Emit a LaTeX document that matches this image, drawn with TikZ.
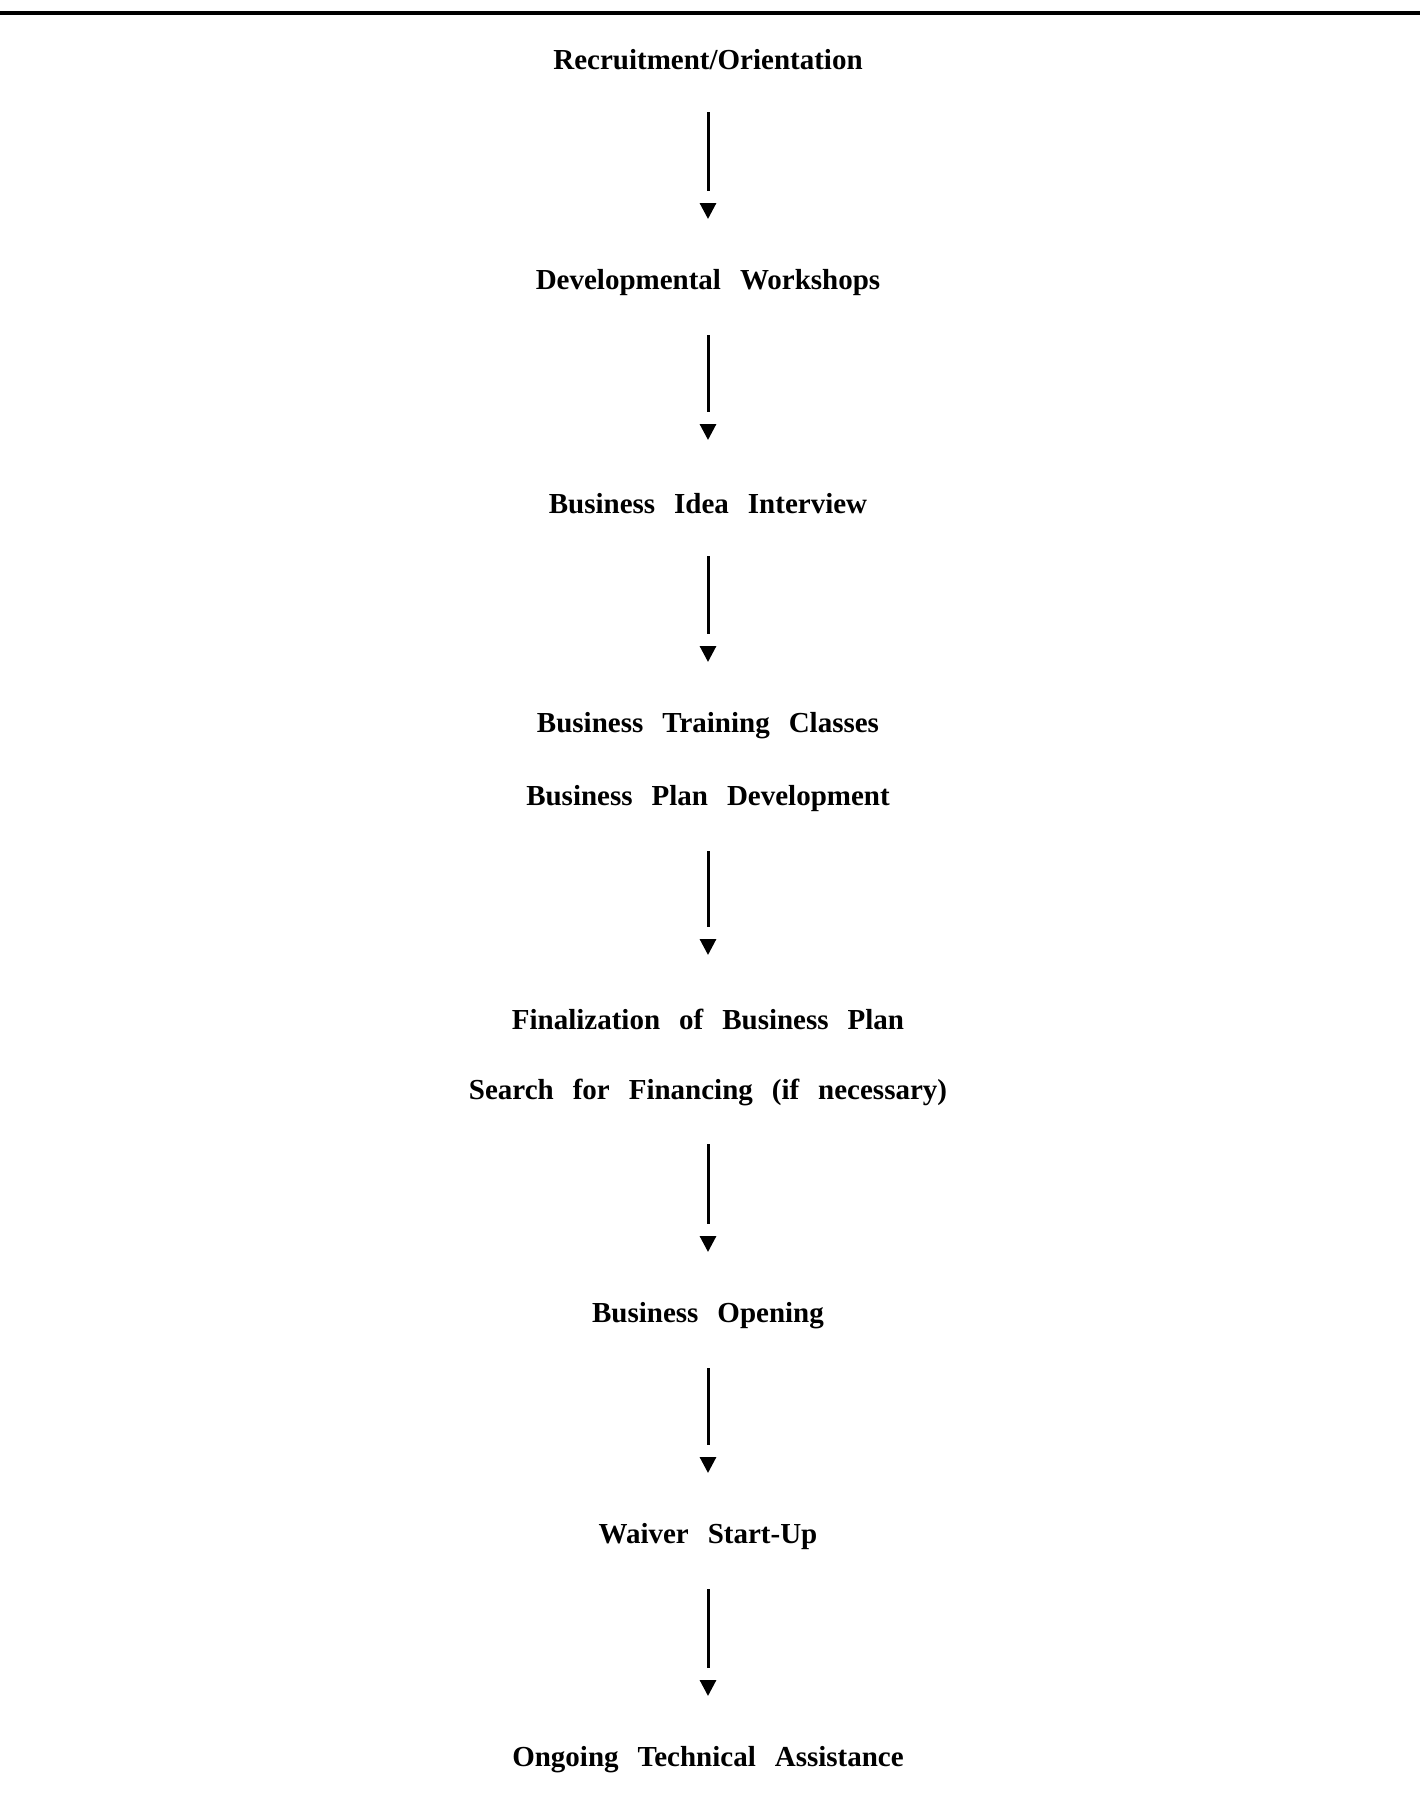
\documentclass[tikz,border=0pt]{standalone}
\usepackage{fontspec}
\setmainfont{Liberation Serif}
\usetikzlibrary{arrows.meta,decorations.markings}

\newcommand{\stagefont}{\fontsize{14.5}{17}\selectfont\bfseries\spaceskip 9.5pt\relax}
\tikzset{
  stage/.style={font=\stagefont, inner sep=0pt},
  flow/.style={line width=1.5pt, shorten <=26pt, shorten >=46pt,
               postaction={decorate, decoration={markings,
                 mark=at position -32pt with {\arrow{Triangle[width=8pt,length=8pt]}}}}}
}

\begin{document}
\begin{tikzpicture}[x=0.5pt, y=-0.5pt]
    \useasboundingbox (0, 0) rectangle (1420, 1817);
    % 顶部横线
    \draw [line width=2pt] (0, 13) -- (1420, 13);

    % 各个阶段
    \node [stage] (recruit) at (708, 60)   {Recruitment/Orientation};
    \node [stage] (workshop) at (708, 283) {Developmental Workshops};
    \node [stage] (idea) at (708, 504)     {Business Idea Interview};
    \node [stage] (training) at (708, 726) {Business Training Classes};
    \node [stage] (plan) at (708, 799)     {Business Plan Development};
    \node [stage] (final) at (708, 1019)   {Finalization of Business Plan};
    \node [stage] (search) at (708, 1092)  {Search for Financing (if necessary)};
    \node [stage] (opening) at (708, 1316) {Business Opening};
    \node [stage] (waiver) at (708, 1537)  {Waiver Start-Up};
    \node [stage] (ongoing) at (708, 1760) {Ongoing Technical Assistance};

    % 箭头
    \draw [flow] (recruit.center) -- (workshop.center);
    \draw [flow] (workshop.center) -- (idea.center);
    \draw [flow] (idea.center) -- (training.center);
    \draw [flow] (plan.center) -- (final.center);
    \draw [flow] (search.center) -- (opening.center);
    \draw [flow] (opening.center) -- (waiver.center);
    \draw [flow] (waiver.center) -- (ongoing.center);
\end{tikzpicture}
\end{document}
